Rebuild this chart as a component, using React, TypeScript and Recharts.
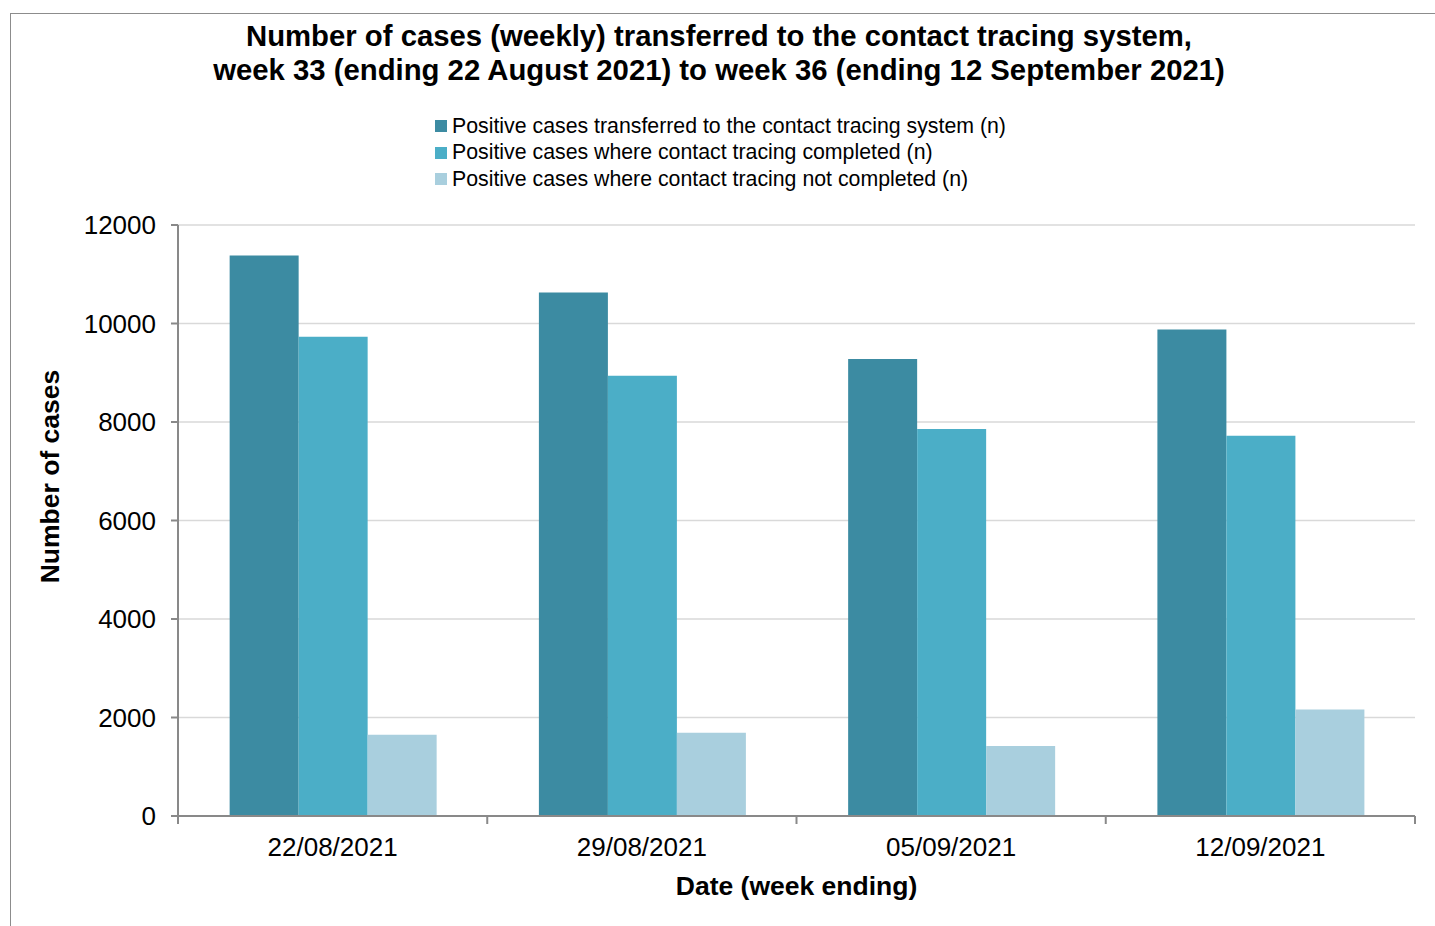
import React from 'react';
import { BarChart, Bar, XAxis, YAxis, CartesianGrid, Legend } from 'recharts';

const categories = ['22/08/2021', '29/08/2021', '05/09/2021', '12/09/2021'];
const transferred = [11380, 10630, 9280, 9880];
const completed = [9730, 8940, 7860, 7720];
const notCompleted = [1650, 1690, 1420, 2160];
const yTicks = [0, 2000, 4000, 6000, 8000, 10000, 12000];

const seriesNames = [
  'Positive cases transferred to the contact tracing system (n)',
  'Positive cases where contact tracing completed (n)',
  'Positive cases where contact tracing not completed (n)',
];
const seriesKeys = ['transferred', 'completed', 'notCompleted'];
const seriesColors = ['#3C8BA2', '#4BAEC7', '#A9CFDE'];

const data = categories.map((c, i) => ({
  date: c,
  transferred: transferred[i],
  completed: completed[i],
  notCompleted: notCompleted[i],
}));

const FONT = '"Liberation Sans", Arial, sans-serif';
const AXIS = '#898989';

const LegendContent = () => (
  <div style={{ fontFamily: FONT, fontSize: 21.3, color: '#000' }}>
    {seriesNames.map((n, i) => (
      <div key={n} style={{ display: 'flex', alignItems: 'center', height: 26.5, whiteSpace: 'nowrap' }}>
        <span style={{ display: 'inline-block', width: 12, height: 12, background: seriesColors[i], marginRight: 5 }} />
        <span>{n}</span>
      </div>
    ))}
  </div>
);

const YLabel = (props: any) => {
  const vb = props.viewBox || { x: 98, y: 225, width: 80, height: 591 };
  const cx = vb.x - 48;
  const cy = vb.y + vb.height / 2 - 44;
  return (
    <text
      x={cx}
      y={cy}
      transform={`rotate(-90, ${cx}, ${cy})`}
      textAnchor="middle"
      dominantBaseline="central"
      fontFamily={FONT}
      fontSize={26.5}
      fontWeight="bold"
      fill="#000"
    >
      Number of cases
    </text>
  );
};

const XTick = (props: any) => {
  const { x, y, payload, index, visibleTicksCount } = props;
  const half = payload && payload.offset ? payload.offset : 154.6;
  const axisY = y;
  const isLast = index === (visibleTicksCount ?? categories.length) - 1;
  return (
    <g>
      <line x1={x - half} x2={x - half} y1={axisY} y2={axisY + 8} stroke={AXIS} strokeWidth={2} />
      {isLast && <line x1={x + half} x2={x + half} y1={axisY} y2={axisY + 8} stroke={AXIS} strokeWidth={2} />}
      <text x={x} y={axisY + 22} dy="0.71em" textAnchor="middle" fontFamily={FONT} fontSize={26} fill="#000">
        {payload.value}
      </text>
    </g>
  );
};

export default function App() {
  return (
    <div style={{ position: 'absolute', left: 0, top: 0, width: 1435, height: 926, background: '#fff', fontFamily: FONT }}>
      <div
        style={{
          position: 'absolute',
          left: 10,
          top: 13,
          right: 0,
          bottom: 0,
          borderLeft: '1px solid #8c8c8c',
          borderTop: '1px solid #8c8c8c',
        }}
      />
      <div
        style={{
          position: 'absolute',
          left: 0,
          width: 1438,
          top: 19,
          textAlign: 'center',
          fontWeight: 'bold',
          fontSize: 29.3,
          lineHeight: '34px',
          color: '#000',
          zIndex: 2,
        }}
      >
        <div>Number of cases (weekly) transferred to the contact tracing system,</div>
        <div>week 33 (ending 22 August 2021) to week 36 (ending 12 September 2021)</div>
      </div>
      <BarChart
        width={1435}
        height={926}
        data={data}
        margin={{ top: 225, right: 20, bottom: 0, left: 98 }}
        barCategoryGap="16.7%"
        barGap={0}
        style={{ position: 'absolute', left: 0, top: 0 }}
      >
        <CartesianGrid vertical={false} stroke="#d9d9d9" strokeWidth={1.5} />
        <XAxis
          dataKey="date"
          height={110}
          axisLine={{ stroke: AXIS, strokeWidth: 2 }}
          tickLine={false}
          tickSize={0}
          tickMargin={0}
          interval={0}
          tick={<XTick />}
          label={{
            value: 'Date (week ending)',
            position: 'insideBottom',
            offset: 31,
            fontSize: 26.5,
            fontWeight: 'bold',
            fill: '#000',
            fontFamily: FONT,
          }}
        />
        <YAxis
          width={80}
          domain={[0, 12000]}
          ticks={yTicks}
          interval={0}
          tickSize={7}
          tickMargin={15}
          axisLine={{ stroke: AXIS, strokeWidth: 2 }}
          tickLine={{ stroke: AXIS, strokeWidth: 2 }}
          tick={{ fontSize: 26, fill: '#000', fontFamily: FONT }}
          label={<YLabel />}
        />
        <Legend
          layout="vertical"
          align="center"
          verticalAlign="middle"
          content={<LegendContent />}
          wrapperStyle={{ position: 'absolute', top: 113, left: 435, width: 'auto' }}
        />
        {seriesKeys.map((k, i) => (
          <Bar
            key={k}
            dataKey={k}
            name={seriesNames[i]}
            fill={seriesColors[i]}
            isAnimationActive={false}
          />
        ))}
      </BarChart>
    </div>
  );
}
